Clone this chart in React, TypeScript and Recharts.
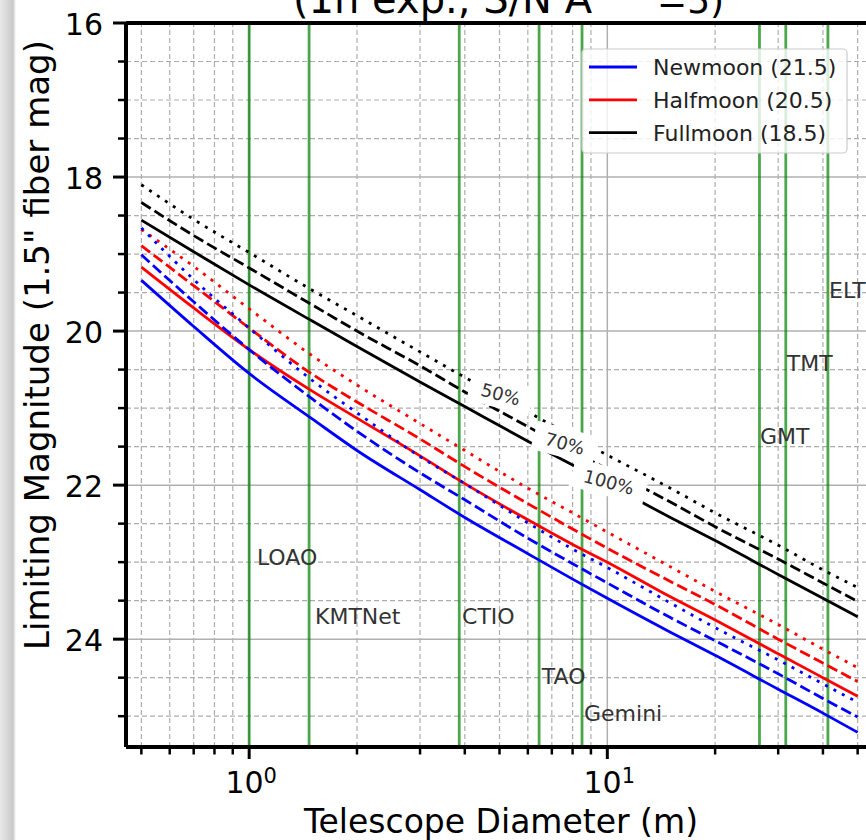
import React from "react";
import { LineChart, Line, XAxis, YAxis, ReferenceLine, ReferenceDot, Legend } from "recharts";

// telescope diameter (m) and limiting magnitude per sky / throughput
const diameters = [0.5, 0.7, 1, 1.5, 2, 3, 4, 6, 8, 10, 15, 20, 30, 40, 50];

const newSolid = [19.34, 19.94, 20.55, 21.14, 21.55, 22.06, 22.42, 22.89, 23.22, 23.47, 23.91, 24.21, 24.65, 24.96, 25.21];
const newDashed = [19.01, 19.62, 20.24, 20.88, 21.3, 21.84, 22.19, 22.69, 23.02, 23.27, 23.72, 24.02, 24.45, 24.77, 25.01];
const newDotted = [18.66, 19.33, 19.96, 20.64, 21.06, 21.63, 21.98, 22.49, 22.83, 23.07, 23.53, 23.85, 24.27, 24.58, 24.82];
const halfSolid = [19.17, 19.7, 20.24, 20.78, 21.13, 21.62, 21.98, 22.45, 22.77, 23.0, 23.45, 23.75, 24.19, 24.5, 24.74];
const halfDashed = [18.89, 19.41, 19.96, 20.56, 20.92, 21.4, 21.76, 22.24, 22.57, 22.82, 23.25, 23.55, 24.0, 24.31, 24.55];
const halfDotted = [18.68, 19.16, 19.71, 20.32, 20.7, 21.2, 21.55, 22.04, 22.36, 22.61, 23.06, 23.38, 23.81, 24.13, 24.37];
const fullSolid = [18.56, 18.97, 19.4, 19.87, 20.2, 20.66, 20.98, 21.43, 21.74, 21.98, 22.42, 22.72, 23.16, 23.47, 23.71];
const fullDashed = [18.33, 18.76, 19.18, 19.66, 20.0, 20.45, 20.79, 21.24, 21.56, 21.79, 22.22, 22.54, 22.96, 23.27, 23.51];
const fullDotted = [18.1, 18.55, 18.98, 19.47, 19.8, 20.27, 20.6, 21.05, 21.37, 21.61, 22.04, 22.36, 22.78, 23.1, 23.33];

const legendNames = ["Newmoon (21.5)", "Halfmoon (20.5)", "Fullmoon (18.5)"];
const legendColors = ["#0000ff", "#ff0000", "#000000"];

const telescopes = ["LOAO", "KMTNet", "CTIO", "TAO", "Gemini", "GMT", "TMT", "ELT"];
const telescopeDiam = [1.0, 1.47, 3.86, 6.45, 8.5, 26.6, 31.5, 41.3];
const labelDiam = [1.051, 1.527, 3.93, 6.56, 8.61, 26.7, 31.7, 41.6];
const labelMag = [22.93, 23.7, 23.7, 24.48, 24.96, 21.36, 20.42, 19.47];

const pctText = ["50%", "70%", "100%"];
const pctDiam = [5.04, 7.61, 10.1];
const pctMag = [20.82, 21.46, 21.96];
const pctBoxW = [64, 64, 76];

const xMajor = [1, 10];
const xMinor = [0.5, 0.6, 0.7, 0.8, 0.9, 2, 3, 4, 5, 6, 7, 8, 9, 20, 30, 40, 50];
const yMajor = [16, 18, 20, 22, 24];
const yMinor = [16.5, 17, 17.5, 18.5, 19, 19.5, 20.5, 21, 21.5, 22.5, 23, 23.5, 24.5, 25];

const font = "DejaVu Sans";
const DOT = "3 6.5";
const DASH = "11 4.5";

const series = [
  { key: "fullDotted", color: "#000000", dash: DOT },
  { key: "fullDashed", color: "#000000", dash: DASH },
  { key: "fullSolid", color: "#000000", dash: undefined },
  { key: "halfDotted", color: "#ff0000", dash: DOT },
  { key: "halfDashed", color: "#ff0000", dash: DASH },
  { key: "halfSolid", color: "#ff0000", dash: undefined },
  { key: "newDotted", color: "#0000ff", dash: DOT },
  { key: "newDashed", color: "#0000ff", dash: DASH },
  { key: "newSolid", color: "#0000ff", dash: undefined },
];

const XTick = (props: any) => {
  const { x, y, payload } = props;
  const major = xMajor.includes(payload.value);
  return (
    <g>
      <line x1={x} x2={x} y1={y} y2={y + (major ? 12 : 7.5)} stroke="#000" strokeWidth={major ? 3 : 2.5} />
      {major && (
        <text x={x + 2} y={y + 46} textAnchor="middle" fontSize={30} fontFamily={font} fill="#000">
          10<tspan dy={-10} fontSize={21}>{Math.round(Math.log10(payload.value))}</tspan>
        </text>
      )}
    </g>
  );
};

const YTick = (props: any) => {
  const { x, y, payload } = props;
  const major = yMajor.includes(payload.value);
  return (
    <g>
      <line x1={x - (major ? 13 : 8)} x2={x} y1={y} y2={y} stroke="#000" strokeWidth={major ? 3 : 2.5} />
      {major && (
        <text x={x - 23} y={y + 12} textAnchor="end" fontSize={30} fontFamily={font} fill="#000">
          {payload.value}
        </text>
      )}
    </g>
  );
};

const LegendBox = () => (
  <svg width={268} height={108}>
    <rect x={1} y={1} width={265} height={104} rx={4} fill="#fff" fillOpacity={0.8} stroke="#cccccc" strokeWidth={1.2} />
    {legendNames.map((n, i) => (
      <g key={n}>
        <line x1={8} x2={56} y1={19 + i * 32.8} y2={19 + i * 32.8} stroke={legendColors[i]} strokeWidth={2.8} />
        <text x={72} y={19 + i * 32.8} dy="0.36em" fontSize={22} fontFamily={font} fill="#222">{n}</text>
      </g>
    ))}
  </svg>
);

export default function App() {
  const data = diameters.map((d, i) => ({
    d,
    newSolid: newSolid[i], newDashed: newDashed[i], newDotted: newDotted[i],
    halfSolid: halfSolid[i], halfDashed: halfDashed[i], halfDotted: halfDotted[i],
    fullSolid: fullSolid[i], fullDashed: fullDashed[i], fullDotted: fullDotted[i],
  }));
  const xTicks = [...xMinor, ...xMajor].sort((a, b) => a - b);
  const yTicks = [...yMinor, ...yMajor].sort((a, b) => a - b);

  return (
    <div style={{ position: "absolute", left: 0, top: 0, width: 866, height: 840, overflow: "hidden", background: "#fff" }}>
      <LineChart width={900} height={840} data={data} margin={{ top: 23, right: 14, bottom: 92, left: 125 }}>
        <XAxis
          dataKey="d" type="number" scale="log" domain={[0.453, 60]} allowDataOverflow
          ticks={xTicks} interval={0} tickLine={false} tickSize={0} tickMargin={0} height={1}
          axisLine={{ stroke: "#000", strokeWidth: 4 }} tick={<XTick />}
          label={(p: any) => (
            <text x={p.viewBox.x + 375} y={p.viewBox.y + 86} textAnchor="middle" fontSize={33} fontFamily={font} fill="#000">
              Telescope Diameter (m)
            </text>
          )}
        />
        <YAxis
          type="number" domain={[16, 25.4]} reversed allowDataOverflow
          ticks={yTicks} interval={0} tickLine={false} tickSize={0} tickMargin={0} width={1}
          axisLine={{ stroke: "#000", strokeWidth: 4 }} tick={<YTick />}
          label={() => (
            <text
              x={49} y={345} textAnchor="middle" fontSize={34} fontFamily={font} fill="#000"
              transform="rotate(-90 49 345)"
            >
              Limiting Magnitude (1.5" fiber mag)
            </text>
          )}
        />

        {xMinor.map((v) => (
          <ReferenceLine key={"xm" + v} x={v} stroke="#adadad" strokeWidth={1.2} strokeDasharray="5 3" zIndex={-100} />
        ))}
        {yMinor.map((v) => (
          <ReferenceLine key={"ym" + v} y={v} stroke="#adadad" strokeWidth={1.2} strokeDasharray="5 3" zIndex={-100} />
        ))}
        {xMajor.map((v) => (
          <ReferenceLine key={"xM" + v} x={v} stroke="#b0b0b0" strokeWidth={1.5} zIndex={-100} />
        ))}
        {yMajor.slice(1).map((v) => (
          <ReferenceLine key={"yM" + v} y={v} stroke="#b0b0b0" strokeWidth={1.5} zIndex={-100} />
        ))}
        <ReferenceLine y={16} stroke="#000" strokeWidth={4} zIndex={500} />

        {telescopeDiam.map((v, i) => (
          <ReferenceLine key={telescopes[i]} x={v} stroke="#008000" strokeOpacity={0.7} strokeWidth={2.8} zIndex={0} />
        ))}

        {series.map((s) => (
          <Line
            key={s.key} dataKey={s.key} type="monotone" stroke={s.color} strokeWidth={2.8}
            strokeDasharray={s.dash} dot={false} activeDot={false} isAnimationActive={false} legendType="none"
          />
        ))}

        {telescopes.map((t, i) => (
          <ReferenceDot
            key={"l" + t} x={labelDiam[i]} y={labelMag[i]} r={0} ifOverflow="visible" zIndex={1800}
            shape={(p: any) => (
              <text x={p.cx} y={p.cy} dy="0.36em" fontSize={22} fontFamily={font} fill="#333">{t}</text>
            )}
          />
        ))}

        {pctText.map((t, i) => (
          <ReferenceDot
            key={t} x={pctDiam[i]} y={pctMag[i]} r={0} ifOverflow="visible" zIndex={1900}
            shape={(p: any) => (
              <g transform={`translate(${p.cx},${p.cy}) rotate(15)`}>
                <rect x={-pctBoxW[i] / 2} y={-15} width={pctBoxW[i]} height={29} fill="#fff" />
                <text x={0} y={0} dy="0.36em" textAnchor="middle" fontSize={18} fontFamily={font} fill="#333">{t}</text>
              </g>
            )}
          />
        ))}

        <Legend
          layout="vertical" align="center" verticalAlign="middle"
          wrapperStyle={{ left: 581, top: 48, width: 268, height: 108 }}
          content={() => <LegendBox />}
        />
      </LineChart>

      <svg width={866} height={30} style={{ position: "absolute", left: 0, top: 0 }}>
        <text y={13} fontSize={40} fontFamily={font} fill="#000">
          <tspan x={293}>(1h exp., S/N Å</tspan>
          <tspan dy={-16} fontSize={27}>−1</tspan>
          <tspan x={657} dy={16} fontSize={36}>=5)</tspan>
        </text>
      </svg>
      <div
        style={{
          position: "absolute", left: 0, top: 0, width: 16, height: 840,
          background: "linear-gradient(to right, #e8e8e8 0px, #d6d6d6 8px, #c9c9c9 13px, #ffffff 16px)",
        }}
      />
    </div>
  );
}
